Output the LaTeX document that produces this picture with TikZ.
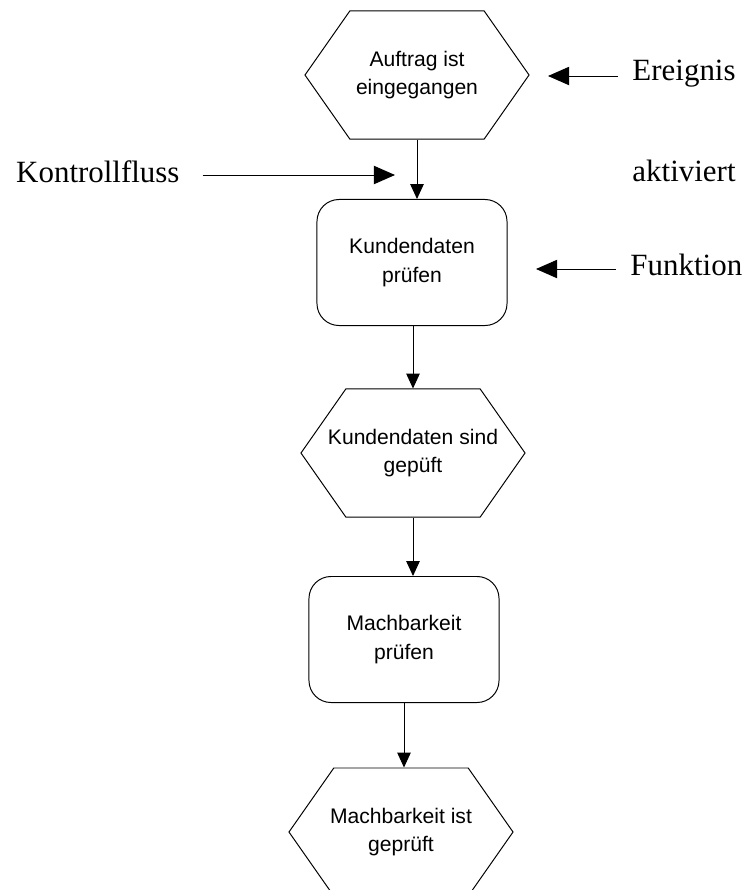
\documentclass[tikz,border=0pt]{standalone}
\usepackage{fontspec}
\setmainfont{Liberation Serif}
\newfontfamily\kastenfont{Liberation Sans}
\usetikzlibrary{arrows.meta,shapes.symbols}

\begin{document}
\begin{tikzpicture}[x=0.025cm,y=-0.025cm,line width=0.7pt,
    ereignis/.style={draw,signal,signal to=east and west,signal pointer angle=110,
      minimum width=5.6cm,minimum height=3.2cm,inner ysep=0pt,inner xsep=-13pt,align=center,
      font=\kastenfont\fontsize{15}{20}\selectfont},
    funktion/.style={draw,rounded corners=0.55cm,minimum width=4.75cm,minimum height=3.15cm,
      inner sep=0pt,align=center,font=\kastenfont\fontsize{15}{20}\selectfont},
    beschriftung/.style={inner sep=0pt,font=\fontsize{22}{26}\selectfont},
    pfeil/.style={-{Triangle[length=10.5pt,width=9.5pt]}},
    zeiger/.style={-{Triangle[length=15pt,width=13pt]}}]

      \useasboundingbox (0,0) rectangle (745,890);

      % Prozesskette
      \node[ereignis] (eingang) at (417,75) {Auftrag ist\\eingegangen};
      \node[funktion] (kunde) at (412,262.5) {Kundendaten\\prüfen};
      \node[ereignis] (geprueft) at (413,453) {Kundendaten sind\\gepüft};
      \node[funktion] (machbar) at (404,639.5) {Machbarkeit\\prüfen};
      \node[ereignis] (fertig) at (401,832) {Machbarkeit ist\\geprüft};

      \draw[pfeil] (eingang.south -| 417,0) -- (kunde.north -| 417,0);
      \draw[pfeil] (kunde.south -| 413,0) -- (geprueft.north -| 413,0);
      \draw[pfeil] (geprueft.south -| 413,0) -- (machbar.north -| 413,0);
      \draw[pfeil] (machbar.south -| 404,0) -- (fertig.north -| 404,0);

      % Legende
      \node[beschriftung,anchor=west] (lblereignis) at (632,74) {Ereignis};
      \node[beschriftung,anchor=west] (lblaktiviert) at (632,171) {aktiviert};
      \node[beschriftung,anchor=west] (lblfunktion) at (630,265) {Funktion};
      \node[beschriftung,anchor=east] (lblfluss) at (180,172) {Kontrollfluss};

      \coordinate (zielereignis) at (548,76);
      \coordinate (zielfunktion) at (536,269);
      \coordinate (zielfluss) at (395,175);

      \draw[zeiger,shorten <=10pt] (lblereignis.west |- zielereignis) -- (zielereignis);
      \draw[zeiger,shorten <=10pt] (lblfunktion.west |- zielfunktion) -- (zielfunktion);
      \draw[zeiger,shorten <=16pt] (lblfluss.east |- zielfluss) -- (zielfluss);

    \end{tikzpicture}
\end{document}
